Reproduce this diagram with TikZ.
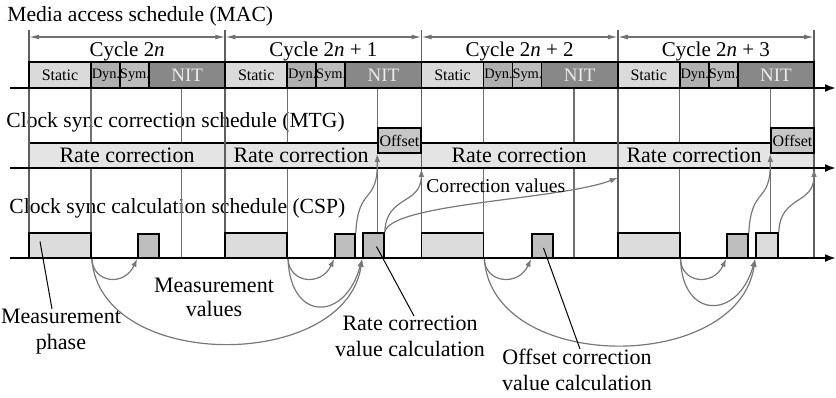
\documentclass[tikz,border=0pt]{standalone}
\usepackage{fontspec}
\setmainfont{Liberation Serif}
\usepackage{xcolor}
\usepackage{tikz}
\usetikzlibrary{positioning, arrows.meta, calc}

\definecolor{staticfill}{HTML}{DADADA}
\definecolor{dynfill}{HTML}{B0B0B0}
\definecolor{symfill}{HTML}{BCBCBC}
\definecolor{nitfill}{HTML}{888888}
\definecolor{bandfill}{HTML}{E4E4E4}
\definecolor{offsetfill}{HTML}{C6C6C6}
\definecolor{measfill}{HTML}{DCDCDC}
\definecolor{calcfill}{HTML}{BEBEBE}
\definecolor{guidegray}{HTML}{707070}
\definecolor{flowgray}{HTML}{787878}

\tikzset{
  maccell/.style={draw, line width=0.8pt, inner sep=0pt, minimum height=13pt},
  slot/.style={draw, line width=0.8pt, inner sep=0pt, minimum height=12.5pt},
  guide/.style={guidegray, line width=0.6pt},
  border/.style={guidegray!85!black, line width=0.8pt},
  flow/.style={flowgray, line width=0.6pt, -{Latex[length=4pt,width=2.8pt]}},
  pointer/.style={black, line width=0.5pt},
  timeaxis/.style={black, line width=1pt, -{Latex[length=5.5pt,width=4pt]}},
  cyclespan/.style={guidegray, line width=0.6pt, {Latex[length=5pt,width=2.4pt]}-{Latex[length=5pt,width=2.4pt]}},
  rowtitle/.style={anchor=base west, inner sep=0pt, font=\fontsize{10.8}{13}\selectfont},
  note/.style={anchor=north, inner sep=0pt, align=center, font=\fontsize{11}{13}\selectfont},
}

\begin{document}
\begin{tikzpicture}[x=0.5pt, y=-0.5pt]
  \useasboundingbox (0,0) rectangle (836,397);

  % Row titles
  \node[rowtitle] (mactitle) at (7,21) {Media access schedule (MAC)};
  \node[rowtitle] (mtgtitle) at (6,127) {Clock sync correction schedule (MTG)};
  \node[rowtitle] (csptitle) at (9,213) {Clock sync calculation schedule (CSP)};

  % Thin guides inside each cycle
  \foreach \c in {1,...,4} {
    \pgfmathsetmacro{\xa}{29+196.25*(\c-1)}
    \draw[guide] (\xa+62,88) -- (\xa+62,258);
    \draw[guide] (\xa+152.5,88) -- (\xa+152.5,258);
  }

  % Rate correction band
  \node[draw, line width=0.8pt, fill=bandfill, inner sep=0pt, minimum width=392.5pt, minimum height=12.5pt] (band) at (421.5,155.5) {};

  % Cycle borders
  \foreach \c in {1,...,5} {
    \pgfmathsetmacro{\xa}{29+196.25*(\c-1)}
    \coordinate (cb\c) at (\xa,37);
    \draw[border] (\xa,30) -- (\xa,258);
  }

  \node[anchor=base, inner sep=0pt, font=\fontsize{11}{13}\selectfont] (rate1) at (127,162) {Rate correction};
  \node[anchor=base, inner sep=0pt, font=\fontsize{11}{13}\selectfont] (rate2) at (301,162) {Rate correction};
  \node[anchor=base, inner sep=0pt, font=\fontsize{11}{13}\selectfont] (rate3) at (519,162) {Rate correction};
  \node[anchor=base, inner sep=0pt, font=\fontsize{11}{13}\selectfont] (rate4) at (694,162) {Rate correction};

  % MAC cells and measurement phases
  \foreach \c in {1,...,4} {
    \pgfmathsetmacro{\xa}{29+196.25*(\c-1)}
    \node[maccell, fill=staticfill, minimum width=31pt, font=\fontsize{8}{9}\selectfont] (st\c) at (\xa+31,75) {Static};
    \node[maccell, fill=dynfill, minimum width=15pt, font=\fontsize{7.2}{8}\selectfont] (dy\c) at (\xa+77,75) {Dyn.};
    \node[maccell, fill=symfill, minimum width=14pt, font=\fontsize{7.2}{8}\selectfont] (sy\c) at (\xa+106,75) {Sym.};
    \node[maccell, fill=nitfill, text=white!92!black, minimum width=38.125pt, font=\fontsize{9.5}{10}\selectfont] (ni\c) at (\xa+158.125,75) {NIT};
    \node[slot, fill=measfill, minimum width=31pt] (ms\c) at (\xa+31,245.5) {};
  }

  % Offset slots
  \node[slot, fill=offsetfill, minimum width=21.5pt, font=\fontsize{8}{9}\selectfont] (of2) at (399.5,140.5) {Offset};
  \node[slot, fill=offsetfill, minimum width=21.5pt, font=\fontsize{8}{9}\selectfont] (of4) at (792.5,140.5) {Offset};

  % Calculation slots
  \node[slot, fill=calcfill, minimum width=10.5pt, minimum height=12pt] (mv1) at (148.5,246) {};
  \node[slot, fill=calcfill, minimum width=10pt, minimum height=12pt] (mv2) at (345,246) {};
  \node[slot, fill=calcfill, minimum width=10.5pt] (rv2) at (373.5,245.5) {};
  \node[slot, fill=calcfill, minimum width=10.5pt, minimum height=12pt] (ov3) at (542.5,246) {};
  \node[slot, fill=calcfill, minimum width=10.5pt, minimum height=12pt] (mv4) at (737.5,246) {};
  \node[slot, fill=measfill, minimum width=11pt] (rv4) at (767,245.5) {};

  % Time axes
  \draw[timeaxis] (10,88) -- (836,88);
  \draw[timeaxis] (10,168) -- (836,168);
  \draw[timeaxis] (10,258) -- (836,258);

  % Cycle spans
  \foreach \c/\d/\lab in {1/2/{2\textit{n}}, 2/3/{2\textit{n} + 1}, 3/4/{2\textit{n} + 2}, 4/5/{2\textit{n} + 3}} {
    \draw[cyclespan] (cb\c) -- (cb\d);
    \node[anchor=base, inner sep=0pt, font=\fontsize{10.5}{12}\selectfont] (cy\c) at ($(cb\c)!0.5!(cb\d)+(0,19)$) {Cycle \lab};
  }

  % Measurement values
  \draw[flow] (ms1.south east) .. controls (93,283) and (124,287) .. (mv1.south west);
  \draw[flow] (ms1.south east) .. controls (100,372) and (345,372) .. (rv2.south west);
  \draw[flow] (ms2.south east) .. controls (289,283) and (321,287) .. (mv2.south west);
  \draw[flow] (ms2.south east) .. controls (290,322) and (345,322) .. (rv2.south west);
  \draw[flow] (ms3.south east) .. controls (485,283) and (518,287) .. (ov3.south west);
  \draw[flow] (ms3.south east) .. controls (492,374) and (738,374) .. (rv4.south west);
  \draw[flow] (ms4.south east) .. controls (681,283) and (713,287) .. (mv4.south west);
  \draw[flow] (ms4.south east) .. controls (682,320) and (738,320) .. (rv4.south west);

  % Correction values
  \coordinate (cvend) at ($(cb4 |- band.south)+(0,9)$);
  \draw[flow] (mv2.north east) .. controls (358,185) and (378,205) .. (of2.south west);
  \draw[flow] (rv2.north east) .. controls (386,195) and (421,205) .. (cb3 |- band.south);
  \draw[flow] (rv2.north east) .. controls (390,203) and (560,200) .. (cvend);
  \draw[flow] (mv4.north east) .. controls (751,185) and (771,205) .. (of4.south west);
  \draw[flow] (rv4.north east) .. controls (780,195) and (814,205) .. (cb5 |- band.south);

  \node[anchor=base west, inner sep=0pt, font=\fontsize{9.8}{12}\selectfont] (cvtext) at (426,192) {Correction values};

  % Labels
  \node[note, font=\fontsize{11}{12}\selectfont] (mvtext) at (214,278) {Measurement\\values};
  \node[note] (mptext) at (61,309) {Measurement\\phase};
  \node[note] (rctext) at (410,316) {Rate correction\\value calculation};
  \node[note] (octext) at (577,349) {Offset correction\\value calculation};

  \draw[pointer] ($(ms1.center)+(-20,-4)$) -- ($(mptext.north)+(-9,0)$);
  \draw[pointer] ($(rv2.center)+(3,1)$) -- ($(rctext.north)+(4,0)$);
  \draw[pointer] ($(ov3.center)+(1,2)$) -- ($(octext.north)+(3,0)$);
\end{tikzpicture}
\end{document}
